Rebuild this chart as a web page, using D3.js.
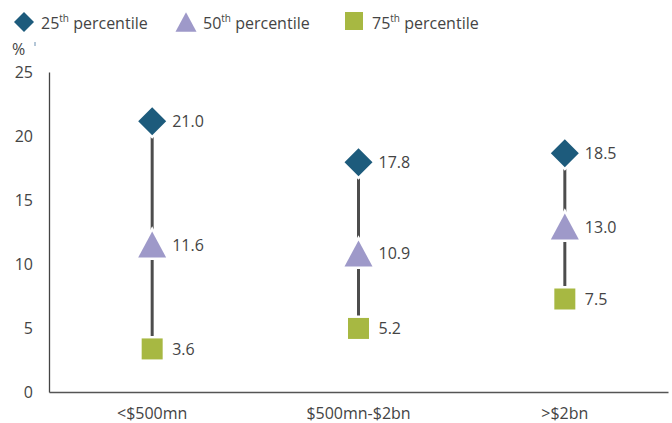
<!DOCTYPE html>
<html><head><meta charset="utf-8">
<script src="https://cdn.jsdelivr.net/npm/d3@7"></script>
<style>body{margin:0;background:#fff;} text{font-family:"Open Sans",sans-serif;fill:#444;}</style>
</head><body><svg id="c" width="672" height="423"></svg>
<script>
const categories = ["<$500mn", "$500mn-$2bn", ">$2bn"];
const p25 = [21.0, 17.8, 18.5];
const p50 = [11.6, 10.9, 13.0];
const p75 = [3.6, 5.2, 7.5];
const yTicks = [0, 5, 10, 15, 20, 25];
const seriesNames = ["25", "50", "75"];
const colors = ["#1d5b7c", "#9e99c9", "#a7b842"];

const svg = d3.select("#c");
const m = {l: 49, r: 4, t: 72, b: 31};
const W = 672, H = 423;
const x = d3.scaleBand().domain(categories).range([m.l, W - m.r]);
const y = d3.scaleLinear().domain([0, 25]).range([H - m.b, m.t]);

// axes
const yAx = svg.append("g").attr("transform", `translate(${m.l},0)`)
  .call(d3.axisLeft(y).tickValues(yTicks).tickSize(0).tickPadding(16));
yAx.select(".domain").attr("stroke", "#444").attr("stroke-width", 1.3);
yAx.selectAll("text").style("font-size", "16px").attr("fill", "#444");
const xAx = svg.append("g").attr("transform", `translate(0,${H - m.b})`)
  .call(d3.axisBottom(x).tickSize(0).tickPadding(16));
xAx.select(".domain").attr("stroke", "#555").attr("stroke-width", 1.3);
xAx.selectAll("text").style("font-size", "16px").attr("fill", "#444");

svg.append("text").attr("x", 12).attr("y", 55).style("font-size", "16px").text("%");
svg.append("line").attr("x1", 35).attr("x2", 35).attr("y1", 42).attr("y2", 46).attr("stroke", "#6a8fb0").attr("stroke-width", 1);

const cx = d => x(d) + x.bandwidth() / 2;
const data = categories.map((c, i) => ({c, v: [p25[i], p50[i], p75[i]]}));

// connecting lines
svg.selectAll(".rng").data(data).enter().append("line")
  .attr("x1", d => cx(d.c)).attr("x2", d => cx(d.c))
  .attr("y1", d => y(d.v[0])).attr("y2", d => y(d.v[2]))
  .attr("stroke", "#4d4d4d").attr("stroke-width", 3);

function marker(k, s) {
  if (k === 0) return `M0,${-s}L${s},0L0,${s}L${-s},0Z`;
  if (k === 1) return `M0,${-s * 0.93}L${s},${s * 0.93}L${-s},${s * 0.93}Z`;
  return `M${-s * 0.75},${-s * 0.75}H${s * 0.75}V${s * 0.75}H${-s * 0.75}Z`;
}
const msz = [14, 14, 14];
const mdy = [-2, 1, 3];
data.forEach(d => {
  d.v.forEach((v, k) => {
    svg.append("path")
      .attr("d", marker(k, msz[k]))
      .attr("transform", `translate(${cx(d.c)},${y(v) + mdy[k]})`)
      .attr("fill", colors[k]).attr("stroke", "#fff").attr("stroke-width", 5)
      .attr("paint-order", "stroke").attr("stroke-linejoin", "miter");
    svg.append("text").attr("x", cx(d.c) + 20).attr("y", y(v) + mdy[k] + 6)
      .style("font-size", "16px").text(v.toFixed(1));
  });
});

// legend
const lx = [24, 186, 354];
const ly = [22, 22, 21];
seriesNames.forEach((s, k) => {
  svg.append("path").attr("d", marker(k, k === 0 ? 10 : (k === 1 ? 10.5 : 12)))
    .attr("transform", `translate(${lx[k]},${ly[k]})`).attr("fill", colors[k]);
  const t = svg.append("text").attr("x", lx[k] + (k === 2 ? 18 : 17)).attr("y", 29).style("font-size", "16px");
  t.append("tspan").text(s);
  t.append("tspan").attr("dy", -7).style("font-size", "10px").text("th");
  t.append("tspan").attr("dy", 7).text(" percentile");
});
</script></body></html>
